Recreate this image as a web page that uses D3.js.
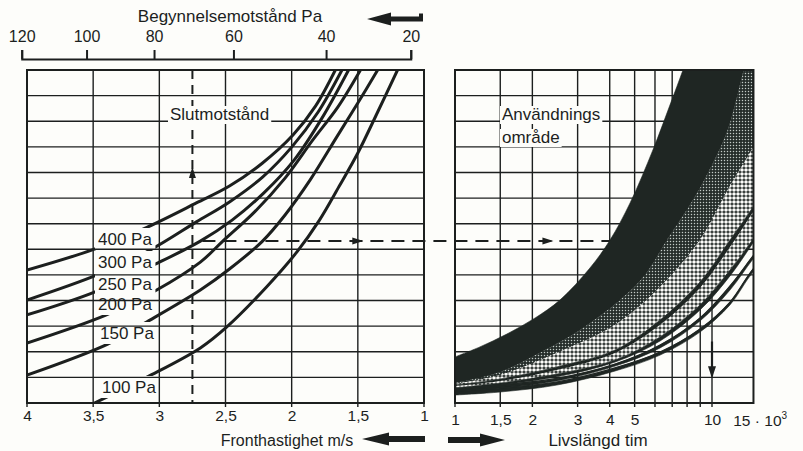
<!DOCTYPE html>
<html>
<head>
<meta charset="utf-8">
<script src="https://cdn.jsdelivr.net/npm/d3@7"></script>
<style>
  html, body { margin: 0; padding: 0; background: #fdfdfa; }
  svg { display: block; }
  text { font-family: "Liberation Sans", Arial, Helvetica, sans-serif; fill: #1c1f1e; }
</style>
</head>
<body>
<svg id="chart" width="803" height="451"></svg>
<script>
// ---------- data ----------
// face velocity axis (m/s), bottom of the left diagram
const velocityTicks  = [4, 3.5, 3, 2.5, 2, 1.5, 1];
const velocityLabels = ["4", "3,5", "3", "2,5", "2", "1,5", "1"];

// initial resistance (Pa) and the face velocity where it is reached
const initialResistance         = [120, 100, 80, 60, 40, 20];
const initialResistanceVelocity = [4.04, 3.55, 3.04, 2.44, 1.74, 1.10];

// service life axis (10^3 h), logarithmic
const lifeTicks  = [1, 1.5, 2, 3, 4, 5, 10];
const lifeLabels = ["1", "1,5", "2", "3", "4", "5", "10"];
const lifeGrid   = [1.5, 2, 3, 4, 5, 6, 7, 8, 9, 10];
const lifeMax    = 14.5;

// common vertical scale, unlabelled grid rows
const rows = 13;

// final resistance curves: [face velocity, row level]
const finalResistanceLabels = ["400 Pa", "300 Pa", "250 Pa", "200 Pa", "150 Pa", "100 Pa"];
const curve400 = [[4.0,5.19],[3.49,6.01],[3.09,6.87],[2.72,7.81],[2.47,8.47],[2.22,9.37],[1.99,10.46],[1.82,11.59],[1.67,13.0]];
const curve300 = [[4.0,4.02],[3.47,5.0],[3.07,5.97],[2.72,7.07],[2.47,7.85],[2.22,8.82],[2.0,9.99],[1.8,11.36],[1.62,13.0]];
const curve250 = [[4.0,3.44],[3.49,4.33],[3.01,5.47],[2.69,6.32],[2.45,7.14],[2.21,8.2],[1.98,9.49],[1.77,11.13],[1.57,13.0]];
const curve200 = [[4.0,2.34],[3.4,3.44],[3.02,4.41],[2.69,5.5],[2.52,6.32],[2.28,7.46],[2.05,8.78],[1.84,10.27],[1.65,11.56],[1.48,13.0]];
const curve150 = [[4.0,1.09],[3.39,2.3],[3.11,3.12],[2.69,4.41],[2.47,5.23],[2.22,6.32],[2.05,7.34],[1.86,8.71],[1.66,10.38],[1.5,11.71],[1.35,13.0]];
const curve100 = [[3.49,0],[3.09,1.02],[2.69,2.15],[2.49,2.97],[2.19,4.53],[1.96,5.9],[1.79,7.14],[1.64,8.47],[1.5,9.76],[1.35,11.36],[1.2,13.0]];

// service-life range edges: [life 10^3 h, row level], top to bottom
const edge1  = [[1.0,1.80],[1.25,2.19],[1.59,2.69],[2.05,3.32],[2.56,4.02],[3.35,5.27],[4.01,6.36],[4.80,7.81],[5.89,9.88],[6.86,11.63],[7.71,13.0],[8.21,13.78]];
const edge2  = [[1.0,0.78],[1.5,1.21],[2.24,2.07],[3.07,2.85],[4.39,4.02],[5.49,5.0],[6.68,6.36],[8.21,7.73],[9.56,8.90],[11.44,10.58],[13.2,12.88],[14.06,13.98]];
const lifePts = [1.0, 1.5, 2.49, 4.2, 6.28, 8.98, 11.75, 14.44, 17.6];
const edge3Rows  = [0.74,1.09,1.95,3.05,4.53,6.36,8.47,9.96,11.63];
const edge4Rows  = [0.70,0.94,1.41,2.07,3.24,4.72,6.36,7.65,9.02];
const edge5Rows  = [0.66,0.86,1.29,1.95,3.05,4.49,6.09,7.46,8.78];
const edge6Rows  = [0.59,0.78,1.13,1.68,2.58,3.83,5.19,6.40,7.81];
const edge7Rows  = [0.55,0.70,1.02,1.60,2.42,3.63,4.96,6.25,7.57];
const edge8Rows  = [0.55,0.70,0.96,1.52,2.26,3.32,4.57,5.74,6.83];
const edge9Rows  = [0.47,0.59,0.86,1.44,2.15,3.20,4.41,5.62,6.68];
const edge10Rows = [0.47,0.59,0.82,1.37,1.99,2.89,3.94,5.23,6.09];
const edge11Rows = [0.31,0.43,0.70,1.25,1.87,2.77,3.83,5.11,5.93];

// worked example: velocity -> level -> service life
const exampleVelocity = 2.75;
const exampleLevel = 6.32;
const exampleLife = 10;

// ---------- layout ----------
const W = 803, H = 451;
const ink = "#1c1f1e", paper = "#fdfdfa", dark = "#1f2623";
const font = '"Liberation Sans", Arial, Helvetica, sans-serif';

const xV = d3.scaleLinear().domain([4, 1]).range([27, 424]);
const yG = d3.scaleLinear().domain([0, rows]).range([403, 70]);
const xL = d3.scaleLog().domain([1, 10]).range([455, 712]);
const xTop = d3.scaleLinear().domain(initialResistance).range(initialResistanceVelocity.map(xV));

const L = { x0: xV(4), x1: xV(1), y0: yG(rows), y1: yG(0) };
const R = { x0: xL(1), x1: xL(lifeMax), y0: yG(rows), y1: yG(0) };

const svg = d3.select("#chart");
svg.append("rect").attr("width", W).attr("height", H).attr("fill", paper);
const defs = svg.append("defs");

defs.append("clipPath").attr("id", "clipL").append("rect")
  .attr("x", L.x0).attr("y", L.y0).attr("width", L.x1 - L.x0).attr("height", L.y1 - L.y0);
defs.append("clipPath").attr("id", "clipR").append("rect")
  .attr("x", R.x0).attr("y", R.y0).attr("width", R.x1 - R.x0).attr("height", R.y1 - R.y0);

// fine stipple
const pFine = defs.append("pattern").attr("id", "fine").attr("patternUnits", "userSpaceOnUse")
  .attr("width", 3).attr("height", 3);
pFine.append("rect").attr("width", 3).attr("height", 3).attr("fill", "#252d2a");
pFine.append("circle").attr("cx", 1.5).attr("cy", 1.5).attr("r", 0.72).attr("fill", "#c3cbc7");
// coarse halftone
const pCoarse = defs.append("pattern").attr("id", "coarse").attr("patternUnits", "userSpaceOnUse")
  .attr("width", 4).attr("height", 4);
pCoarse.append("rect").attr("width", 4).attr("height", 4).attr("fill", dark);
pCoarse.append("circle").attr("cx", 2).attr("cy", 2).attr("r", 1.8).attr("fill", "#fdfdfa");

// ---------- grids ----------
function grid(g, xs, x0, x1) {
  g.selectAll("line.v").data(xs).join("line")
    .attr("x1", d => d).attr("x2", d => d).attr("y1", yG(rows)).attr("y2", yG(0) + 4)
    .attr("stroke", ink).attr("stroke-width", 1.4);
  g.selectAll("line.h").data(d3.range(1, rows)).join("line").attr("class", "h")
    .attr("x1", x0).attr("x2", x1).attr("y1", d => yG(d)).attr("y2", d => yG(d))
    .attr("stroke", ink).attr("stroke-width", 1.4);
}
const gridL = svg.append("g");
grid(gridL, velocityTicks.map(xV), L.x0, L.x1);
const gridR = svg.append("g");
grid(gridR, [1].concat(lifeGrid).map(xL), R.x0, R.x1);

// ---------- dashed reading lines ----------
const dashG = svg.append("g").attr("stroke", ink).attr("stroke-width", 2).attr("fill", "none");
dashG.append("line")
  .attr("x1", xV(exampleVelocity)).attr("x2", xV(exampleVelocity))
  .attr("y1", yG(rows)).attr("y2", yG(0))
  .attr("stroke-dasharray", "9,6");
dashG.append("line")
  .attr("x1", xV(exampleVelocity) + 10).attr("x2", xL(exampleLife))
  .attr("y1", yG(exampleLevel)).attr("y2", yG(exampleLevel))
  .attr("stroke-dasharray", "13,8");

// ---------- service-life ranges ----------
const lineR = d3.line().x(d => xL(d[0])).y(d => yG(d[1])).curve(d3.curveCatmullRom.alpha(0.5));
function zipRows(rowsArr) { return lifePts.map((l, i) => [l, rowsArr[i]]); }
const edges = [edge1, edge2, zipRows(edge3Rows), zipRows(edge4Rows), zipRows(edge5Rows),
  zipRows(edge6Rows), zipRows(edge7Rows), zipRows(edge8Rows), zipRows(edge9Rows),
  zipRows(edge10Rows), zipRows(edge11Rows)];
function bandPath(upper, lower) {
  const a = lineR(upper);
  const b = lineR(lower.slice().reverse());
  return a + "L" + b.slice(1) + "Z";
}
const fills = [dark, "url(#fine)", "url(#coarse)", dark, "url(#coarse)", dark, null, dark, null, dark];
const bandG = svg.append("g").attr("clip-path", "url(#clipR)");
fills.forEach((f, i) => {
  if (!f) return;
  bandG.append("path").attr("d", bandPath(edges[i], edges[i + 1]))
    .attr("fill", f).attr("stroke", f === dark ? dark : "none").attr("stroke-width", 0.6);
});
// thin outline along the lowest edges
[edges[7], edges[9]].forEach(e => {
  bandG.append("path").attr("d", lineR(e)).attr("fill", "none").attr("stroke", dark).attr("stroke-width", 1.2);
});

// ---------- panel frames ----------
[L, R].forEach(p => {
  svg.append("rect").attr("x", p.x0).attr("y", p.y0).attr("width", p.x1 - p.x0).attr("height", p.y1 - p.y0)
    .attr("fill", "none").attr("stroke", ink).attr("stroke-width", 2);
});

// ---------- final resistance curves ----------
const mask = defs.append("mask").attr("id", "labelMask").attr("maskUnits", "userSpaceOnUse")
  .attr("x", 0).attr("y", 0).attr("width", W).attr("height", H);
mask.append("rect").attr("width", W).attr("height", H).attr("fill", "white");

const lineL = d3.line().x(d => xV(d[0])).y(d => yG(d[1])).curve(d3.curveCatmullRom.alpha(0.5));
const curves = [curve400, curve300, curve250, curve200, curve150, curve100];
svg.append("g").attr("clip-path", "url(#clipL)")
  .append("g").attr("mask", "url(#labelMask)")
  .selectAll("path").data(curves).join("path")
  .attr("d", lineL).attr("fill", "none").attr("stroke", ink).attr("stroke-width", 3)
  .attr("stroke-linecap", "round");

const labelAnchors = [[98, 245], [98, 268], [98, 290], [98, 310], [100, 339], [102, 393]];
const curveLabels = svg.append("g").selectAll("text").data(finalResistanceLabels).join("text")
  .attr("x", (d, i) => labelAnchors[i][0]).attr("y", (d, i) => labelAnchors[i][1])
  .attr("font-size", 17).text(d => d);
curveLabels.each(function () {
  const b = this.getBBox();
  mask.append("rect").attr("x", b.x - 3).attr("y", b.y - 2).attr("width", b.width + 6).attr("height", b.height + 3)
    .attr("fill", "black");
});

// ---------- boxed notes ----------
function note(lines, x, y0, lh) {
  const g = svg.append("g");
  lines.forEach((t, i) => {
    const tx = g.append("text").attr("x", x).attr("y", y0 + i * lh).attr("font-size", 17).text(t);
    const b = tx.node().getBBox();
    g.insert("rect", "text").attr("x", b.x - 2).attr("y", b.y + 1).attr("width", b.width + 4).attr("height", b.height - 1)
      .attr("fill", paper);
  });
}
note(["Slutmotstånd"], 170, 120, 0);
note(["Användnings", "område"], 502, 120, 23);

// ---------- arrowheads ----------
function head(x, y, dir, len = 11, half = 3.5) {
  const pts = {
    up:    [[x, y - len / 2], [x - half, y + len / 2], [x + half, y + len / 2]],
    down:  [[x, y + len / 2], [x - half, y - len / 2], [x + half, y - len / 2]],
    right: [[x + len / 2, y], [x - len / 2, y - half], [x - len / 2, y + half]]
  }[dir];
  svg.append("path").attr("d", "M" + pts.join("L") + "Z").attr("fill", ink);
}
head(xV(exampleVelocity), yG(9.0), "up");
head(xV(1.5), yG(exampleLevel), "right");
head(xL(2.3), yG(exampleLevel), "right");
svg.append("line").attr("x1", xL(exampleLife)).attr("x2", xL(exampleLife))
  .attr("y1", yG(2.4)).attr("y2", yG(1.05)).attr("stroke", ink).attr("stroke-width", 2.2);
head(xL(exampleLife), yG(1.2), "down", 12, 4);

// ---------- axes ----------
const axTop = svg.append("g").attr("transform", "translate(0,59)")
  .call(d3.axisTop(xTop).tickValues(initialResistance).tickSize(9).tickSizeOuter(9).tickPadding(8));
axTop.selectAll("path.domain").attr("stroke", ink).attr("stroke-width", 2).attr("fill", "none");
axTop.selectAll(".tick line").attr("stroke", ink).attr("stroke-width", 2);
axTop.selectAll("text").attr("font-size", 16).attr("font-family", font).attr("fill", ink);

const axL = svg.append("g").attr("transform", `translate(0,${yG(0)})`)
  .call(d3.axisBottom(xV).tickValues(velocityTicks).tickFormat((d, i) => velocityLabels[i]).tickSize(0).tickPadding(7));
axL.select("path.domain").remove();
axL.selectAll("text").attr("font-size", 15.5).attr("font-family", font).attr("fill", ink);

const axR = svg.append("g").attr("transform", `translate(0,${yG(0)})`)
  .call(d3.axisBottom(xL).tickValues(lifeTicks).tickFormat((d, i) => lifeLabels[i]).tickSize(0).tickPadding(11));
axR.select("path.domain").remove();
axR.selectAll("text").attr("font-size", 15.5).attr("font-family", font).attr("fill", ink);
const t15 = svg.append("text").attr("x", xL(15) - 24).attr("y", yG(0) + 23).attr("font-size", 15.5);
t15.append("tspan").text("15 · 10");
t15.append("tspan").attr("font-size", 10).attr("dy", -7).text("3");

// ---------- titles and direction arrows ----------
svg.append("text").attr("x", 230).attr("y", 22).attr("text-anchor", "middle").attr("font-size", 17)
  .text("Begynnelsemotstånd Pa");
svg.append("text").attr("x", 287).attr("y", 446).attr("text-anchor", "middle").attr("font-size", 16)
  .text("Fronthastighet m/s");
svg.append("text").attr("x", 598).attr("y", 446).attr("text-anchor", "middle").attr("font-size", 17)
  .text("Livslängd tim");

function bigArrow(tail, tip, yc, headLen, headHalf, shaftHalf) {
  const s = tip < tail ? 1 : -1;
  const hb = tip + s * headLen;
  const pts = [[tip, yc], [hb, yc - headHalf], [hb, yc - shaftHalf], [tail, yc - shaftHalf],
               [tail, yc + shaftHalf], [hb, yc + shaftHalf], [hb, yc + headHalf]];
  svg.append("path").attr("d", "M" + pts.join("L") + "Z").attr("fill", ink);
}
bigArrow(423, 367, 19, 24, 6.5, 2.6);
svg.append("rect").attr("x", 419).attr("y", 13.5).attr("width", 4).attr("height", 4).attr("fill", ink);
bigArrow(425, 362, 439, 27, 6.5, 3);
bigArrow(448, 505, 440, 25, 6.5, 3);
</script>
</body>
</html>
